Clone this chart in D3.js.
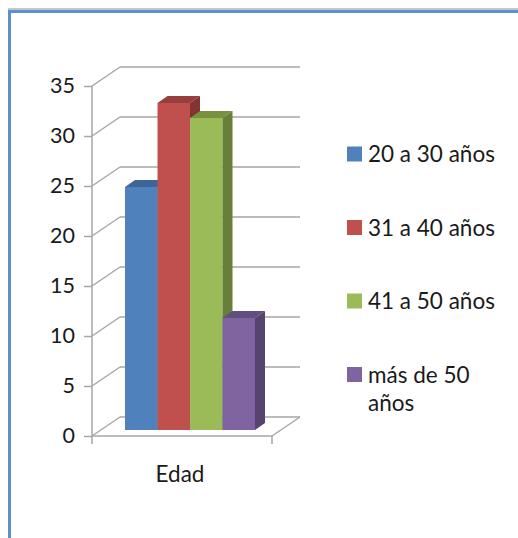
<!DOCTYPE html>
<html><head><meta charset="utf-8">
<script src="https://cdn.jsdelivr.net/npm/d3@7"></script>
<style>body{margin:0;background:#fff;}svg{display:block;}text{font-family:Lato,"Open Sans",sans-serif;fill:#1a1a1a;}</style>
</head><body>
<script>
const categories = ["Edad"];
const seriesNames = ["20 a 30 años", "31 a 40 años", "41 a 50 años", "más de 50 años"];
const seriesValues = [24.3, 32.7, 31.2, 11.2];
const yTicks = [0, 5, 10, 15, 20, 25, 30, 35];
const frontColors = ["#4f81bd", "#c0504d", "#9bbb59", "#8064a2"];
const topColors = ["#3d6599", "#963f3c", "#78923f", "#634e80"];
const sideColors = ["#365a87", "#833331", "#66803a", "#564370"];

const W = 518, H = 538;
const svg = d3.select("body").append("svg").attr("width", W).attr("height", H);

// frame
svg.append("line").attr("x1", 8).attr("x2", W).attr("y1", 9).attr("y2", 9).attr("stroke", "#8c8c8c").attr("stroke-width", 1);
svg.append("line").attr("x1", 8).attr("x2", W).attr("y1", 11.5).attr("y2", 11.5).attr("stroke", "#5b8fd0").attr("stroke-width", 3);
svg.append("line").attr("x1", 9.5).attr("x2", 9.5).attr("y1", 10).attr("y2", H).attr("stroke", "#5b8fd0").attr("stroke-width", 3);

const y = d3.scaleLinear().domain([0, 35]).range([436, 86]);
const xFront = [92, 272];
const wall = {dx: 28, dy: -19};
const gridColor = "#a6a6a6";

const g = svg.append("g");
yTicks.forEach(t => {
  const yy = y(t);
  g.append("line").attr("x1", xFront[0] + wall.dx).attr("x2", xFront[1] + wall.dx)
    .attr("y1", yy + wall.dy).attr("y2", yy + wall.dy).attr("stroke", gridColor).attr("stroke-width", 1.5);
  g.append("line").attr("x1", xFront[0]).attr("x2", xFront[0] + wall.dx)
    .attr("y1", yy).attr("y2", yy + wall.dy).attr("stroke", gridColor).attr("stroke-width", 1.5);
});
g.append("line").attr("x1", xFront[0]).attr("x2", xFront[1]).attr("y1", y(0)).attr("y2", y(0)).attr("stroke", gridColor).attr("stroke-width", 1.5);
g.append("line").attr("x1", xFront[1]).attr("x2", xFront[1] + wall.dx).attr("y1", y(0)).attr("y2", y(0) + wall.dy).attr("stroke", gridColor).attr("stroke-width", 1.5);

const axis = d3.axisLeft(y).tickValues(yTicks).tickSize(8).tickPadding(9);
const ax = svg.append("g").attr("transform", `translate(${xFront[0]},0)`).call(axis);
ax.select(".domain").attr("stroke", gridColor).attr("stroke-width", 1.5).attr("d", `M-0,${y(0)}V${y(35)}`);
ax.selectAll(".tick line").attr("stroke", gridColor).attr("stroke-width", 1.5);
ax.selectAll(".tick text").style("font-family", "Lato").style("font-size", "21.5px").attr("fill", "#1a1a1a");

const xCat = d3.scaleBand().domain(categories).range(xFront);
const axb = svg.append("g").attr("transform", `translate(0,${y(0)})`).call(d3.axisBottom(xCat).tickSize(0).tickPadding(0));
axb.select(".domain").remove();
axb.selectAll(".tick text").remove();
[xFront[0], xFront[1]].forEach(xx => svg.append("line").attr("x1", xx).attr("x2", xx).attr("y1", y(0)).attr("y2", y(0) + 8).attr("stroke", gridColor).attr("stroke-width", 1.5));
svg.append("text").attr("x", xCat(categories[0]) + xCat.bandwidth() / 2 - 2).attr("y", 482)
  .attr("text-anchor", "middle").style("font-size", "22.5px").text(categories[0]);

const barOff = {dx: 0, dy: -6};
const depth = {dx: 10, dy: -7};
const xBar = d3.scaleBand().domain(seriesNames).range([125, 255]).paddingInner(0);
const bars = svg.append("g");
seriesNames.forEach((s, i) => {
  const x0 = xBar(s), w = xBar.bandwidth();
  const yb = y(0) + barOff.dy, yt = y(seriesValues[i]) + barOff.dy;
  bars.append("rect").attr("x", x0).attr("y", yt).attr("width", w).attr("height", yb - yt).attr("fill", frontColors[i]);
  bars.append("path").attr("d", `M${x0},${yt}L${x0 + depth.dx},${yt + depth.dy}L${x0 + w + depth.dx},${yt + depth.dy}L${x0 + w},${yt}Z`).attr("fill", topColors[i]);
  bars.append("path").attr("d", `M${x0 + w},${yt}L${x0 + w + depth.dx},${yt + depth.dy}L${x0 + w + depth.dx},${yb + depth.dy}L${x0 + w},${yb}Z`).attr("fill", sideColors[i]);
});

const leg = svg.append("g");
const legY = [154, 227.5, 301, 374.5];
seriesNames.forEach((s, i) => {
  leg.append("rect").attr("x", 347).attr("y", legY[i] - 7.5).attr("width", 15).attr("height", 15).attr("fill", frontColors[i]);
  const t = leg.append("text").attr("x", 368).attr("y", legY[i] + 8).style("font-size", "22.5px");
  if (s === "más de 50 años") {
    t.append("tspan").attr("x", 368).text("más de 50");
    t.append("tspan").attr("x", 368).attr("dy", 28).text("años");
  } else t.text(s);
});
</script>
</body></html>
